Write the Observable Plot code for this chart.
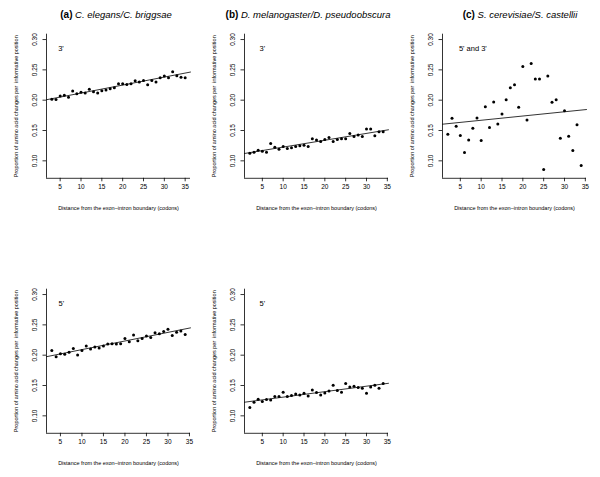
<!DOCTYPE html>
<html><head><meta charset="utf-8">
<script src="https://cdn.jsdelivr.net/npm/d3@7"></script>
<script src="https://cdn.jsdelivr.net/npm/@observablehq/plot@0.6"></script>
<style>
body{margin:0;background:#fff;}
#fig{position:relative;width:600px;height:477px;overflow:hidden;font-family:"Liberation Sans",Arial,Helvetica,sans-serif;}
#fig svg{position:absolute;overflow:visible;}
.title{position:absolute;top:9px;font-size:9.5px;line-height:12px;white-space:nowrap;transform:translateX(-50%);color:#000;}
.title b{font-size:10px;font-style:normal;}
.title i{font-style:italic;}
</style></head><body><div id="fig"></div>
<script>
// ---- data ----
const codonsA3 = [3,4,5,6,7,8,9,10,11,12,13,14,15,16,17,18,19,20,21,22,23,24,25,26,27,28,29,30,31,32,33,34,35];
const propA3 = [0.2017,0.201,0.207,0.208,0.205,0.215,0.2105,0.213,0.212,0.218,0.214,0.212,0.2155,0.2166,0.219,0.2205,0.227,0.227,0.226,0.227,0.232,0.230,0.2326,0.2254,0.2326,0.230,0.237,0.240,0.237,0.247,0.2403,0.238,0.237];

const codonsA5 = [3,4,5,6,7,8,9,10,11,12,13,14,15,16,17,18,19,20,21,22,23,24,25,26,27,28,29,30,31,32,33,34];
const propA5 = [0.2076,0.1973,0.2022,0.2016,0.2049,0.2109,0.2005,0.2076,0.2152,0.2103,0.2136,0.212,0.2152,0.2185,0.219,0.2185,0.219,0.2277,0.2223,0.2332,0.2239,0.2277,0.2315,0.2293,0.237,0.2353,0.2391,0.2429,0.2326,0.238,0.2397,0.2342];

const codonsB3 = [2,3,4,5,6,7,8,9,10,11,12,13,14,15,16,17,18,19,20,21,22,23,24,25,26,27,28,29,30,31,32,33,34];
const propB3 = [0.1127,0.1143,0.1176,0.116,0.1143,0.1287,0.1226,0.1193,0.1237,0.1204,0.1215,0.1237,0.1248,0.1259,0.1237,0.1364,0.1342,0.132,0.1353,0.1386,0.132,0.1353,0.1364,0.1364,0.1452,0.1402,0.1424,0.1402,0.1523,0.1523,0.1413,0.1479,0.1479];

const codonsB5 = [2,3,4,5,6,7,8,9,10,11,12,13,14,15,16,17,18,19,20,21,22,23,24,25,26,27,28,29,30,31,32,33,34];
const propB5 = [0.1137,0.1225,0.1274,0.1236,0.1268,0.1263,0.1318,0.1318,0.1389,0.1318,0.1334,0.1362,0.1345,0.1373,0.1329,0.1427,0.1384,0.1345,0.1378,0.1411,0.1504,0.1416,0.1389,0.1532,0.1477,0.1488,0.1466,0.1455,0.1373,0.1477,0.1504,0.1455,0.1532];

const codonsC = [2,3,4,5,6,7,8,9,10,11,12,13,14,15,16,17,18,19,20,21,22,23,24,25,26,27,28,29,30,31,32,33,34];
const propC = [0.1438,0.1701,0.157,0.1416,0.1137,0.1345,0.1537,0.1707,0.1334,0.1893,0.1548,0.197,0.1608,0.1773,0.2008,0.2205,0.2255,0.1882,0.2556,0.1674,0.2605,0.2348,0.2348,0.0858,0.2397,0.1964,0.2008,0.1373,0.1827,0.1405,0.117,0.1597,0.0923];

// fitted regression lines (intercept, slope)
const fitPanels = ["a3","a5","b3","b5","c"];
const fitIntercepts = [0.1985,0.195,0.1113,0.1218,0.1599];
const fitSlopes = [0.00132,0.00142,0.001131,0.000903,0.0007];

const panelNotes = ["3'","5'","3'","5'","5' and 3'"];
const noteX = [5.2,5.2,5,5,8];
const noteY = [0.285,0.285,0.285,0.285,0.285];

const xTicks = [5,10,15,20,25,30,35];
const yTicks = [0.10,0.15,0.20,0.25,0.30];
const yLimits = [0.08,0.30];

const xLabel = "Distance from the exon\u2013intron boundary (codons)";
const yLabel = "Proportion of amino acid changes per\u00a0 informative position";

const titleTags = ["(a)","(b)","(c)"];
const titleNames = ["C. elegans/C. briggsae","D. melanogaster/D. pseudoobscura","S. cerevisiae/S. castellii"];
const titleCenters = [116,308,520];

const font = '"Liberation Sans",Arial,Helvetica,sans-serif';

function panel(xs, ys, k, left, top) {
  const [x0, x1] = d3.extent(xs);
  const px = (x1 - x0) * 0.04;
  const xd = [x0 - px, x1 + px];
  const py = (yLimits[1] - yLimits[0]) * 0.04;
  const yd = [yLimits[0] - py, yLimits[1] + py];
  const pts = xs.map((x, i) => ({x, y: ys[i]}));
  const fit = xd.map(x => ({x, y: fitIntercepts[k] + fitSlopes[k] * x}));
  const svg = Plot.plot({
    width: 200, height: 240,
    marginLeft: 46, marginRight: 10, marginTop: 33.7, marginBottom: 62.2,
    x: {domain: xd}, y: {domain: yd},
    style: {fontFamily: font, fontSize: "6.5px", background: "transparent", color: "black", overflow: "visible"},
    marks: [
      Plot.ruleX([xd[0]], {stroke: "black", strokeWidth: 0.8}),
      Plot.ruleY([yd[0]], {stroke: "black", strokeWidth: 0.8}),
      Plot.axisX({ticks: xTicks, tickSize: 3.5, tickPadding: 2.5, label: null, fontSize: 6.5, strokeWidth: 0.8}),
      Plot.axisY({ticks: yTicks, tickSize: 3.5, tickFormat: () => "", label: null, strokeWidth: 0.8}),
      Plot.text(yTicks, {y: d => d, text: d => d.toFixed(2), frameAnchor: "left", textAnchor: "middle", dx: -12, rotate: -90, fontSize: 6.5, fill: "black"}),
      Plot.line(fit, {x: "x", y: "y", stroke: "black", strokeWidth: 0.8}),
      Plot.dot(pts, {x: "x", y: "y", r: 1.5, fill: "black", stroke: "none"}),
      Plot.text([panelNotes[k]], {x: () => noteX[k], y: () => noteY[k], text: d => d, fontSize: 7.5, fill: "black"}),
      Plot.text([xLabel], {frameAnchor: "bottom", textAnchor: "middle", dy: 32, text: d => d, fontSize: 5.5, fill: "black"}),
      Plot.text([yLabel], {frameAnchor: "left", textAnchor: "middle", dx: -30, rotate: -90, text: d => d, fontSize: 5.5, fill: "black"})
    ]
  });
  svg.style.left = left + "px";
  svg.style.top = top + "px";
  return svg;
}

const fig = document.getElementById("fig");
fig.appendChild(panel(codonsA3, propA3, 0, 0, 0));
fig.appendChild(panel(codonsA5, propA5, 1, 0, 255));
fig.appendChild(panel(codonsB3, propB3, 2, 198, 0));
fig.appendChild(panel(codonsB5, propB5, 3, 198, 255));
fig.appendChild(panel(codonsC, propC, 4, 396, 0));

titleTags.forEach((t, i) => {
  const d = document.createElement("div");
  d.className = "title";
  d.style.left = titleCenters[i] + "px";
  d.innerHTML = `<b>${t}</b> <i>${titleNames[i]}</i>`;
  fig.appendChild(d);
});
</script>
</body></html>
